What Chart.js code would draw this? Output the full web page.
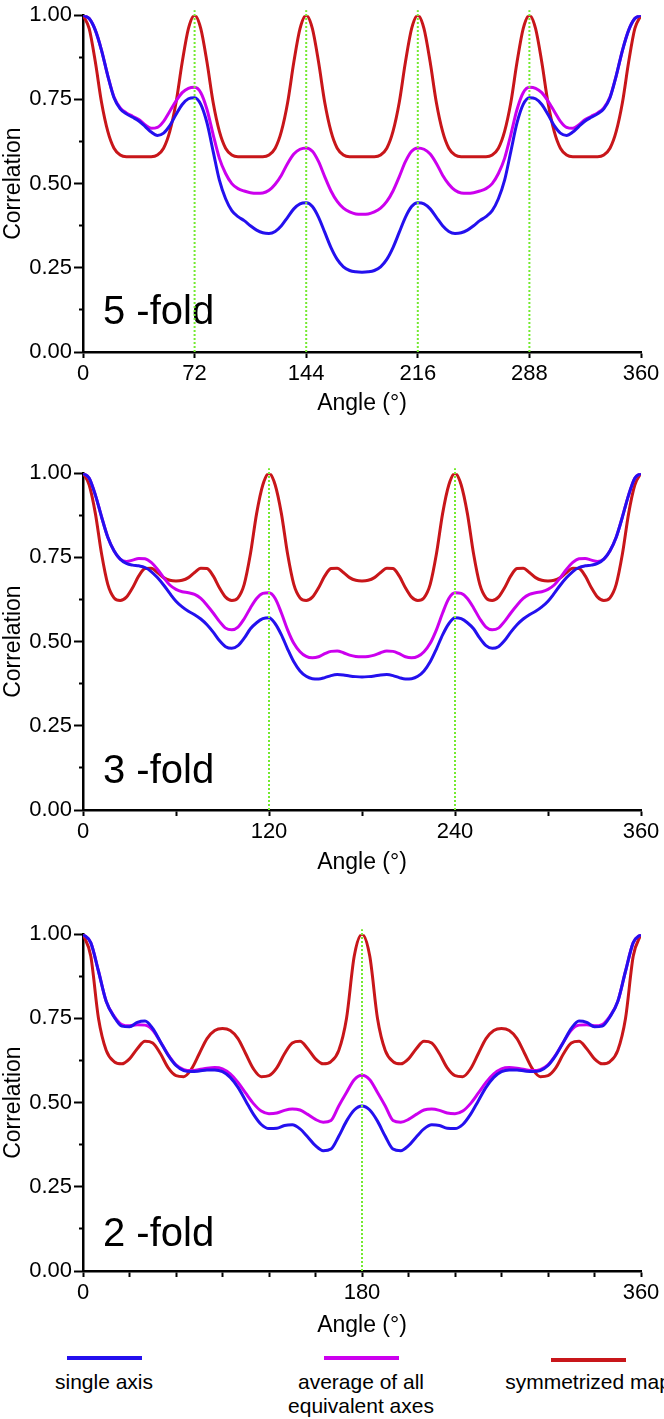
<!DOCTYPE html>
<html>
<head>
<meta charset="utf-8">
<script src="https://cdn.jsdelivr.net/npm/chart.js@4.4.1/dist/chart.umd.min.js"></script>
<style>
    body { margin: 0; background: #fff; width: 664px; height: 1419px; position: relative; overflow: hidden;
           font-family: "Liberation Sans", Arial, sans-serif; color: #000; }
    canvas { position: absolute; left: 0; }
    .key { position: absolute; width: 75px; height: 4px; }
    .keyText { position: absolute; font-size: 21px; line-height: 24px; text-align: center; white-space: nowrap;
               transform: translateX(-50%); }
</style>
</head>
<body>
<canvas id="fiveFold" width="664" height="422" style="top:0px"></canvas>
<canvas id="threeFold" width="664" height="422" style="top:458px"></canvas>
<canvas id="twoFold" width="664" height="422" style="top:919px"></canvas>
<div id="legend"></div>
<script>
// angles (degrees)
const angles4 = [0,4,8,12,16,20,24,28,32,36,40,44,48,52,56,60,64,68,72,76,80,84,88,92,96,100,
    104,108,112,116,120,124,128,132,136,140,144,148,152,156,160,164,168,172,176,180,184,188,192,196,
    200,204,208,212,216,220,224,228,232,236,240,244,248,252,256,260,264,268,272,276,280,284,288,292,
    296,300,304,308,312,316,320,324,328,332,336,340,344,348,352,356,360];
const angles5 = [0,5,10,15,20,25,30,35,40,45,50,55,60,65,70,75,80,85,90,95,100,105,110,115,120,
    125,130,135,140,145,150,155,160,165,170,175,180,185,190,195,200,205,210,215,220,225,230,235,240,
    245,250,255,260,265,270,275,280,285,290,295,300,305,310,315,320,325,330,335,340,345,350,355,360];

// 5-fold
const singleFive = [1.000,0.990,0.955,0.895,0.820,0.755,0.722,0.707,0.697,0.686,
    0.670,0.653,0.643,0.650,0.672,0.705,0.735,0.752,0.755,0.735,
    0.680,0.595,0.510,0.455,0.420,0.402,0.390,0.375,0.362,0.354,
    0.352,0.358,0.375,0.400,0.425,0.440,0.443,0.432,0.400,0.355,
    0.310,0.275,0.253,0.242,0.238,0.237,
    0.238,0.242,0.253,0.275,0.310,0.355,0.400,0.432,0.443,0.440,
    0.425,0.400,0.375,0.358,0.352,0.354,0.362,0.375,0.390,0.402,
    0.420,0.455,0.510,0.595,0.680,0.735,0.755,0.752,0.735,0.705,
    0.672,0.650,0.643,0.653,0.670,0.686,0.697,0.707,0.722,0.755,
    0.820,0.895,0.955,0.990,1.000];
const averageFive = [1.000,0.990,0.955,0.895,0.820,0.757,0.725,0.710,0.700,0.690,
    0.675,0.664,0.667,0.685,0.715,0.745,0.770,0.783,0.786,0.770,
    0.720,0.645,0.575,0.530,0.500,0.485,0.478,0.473,0.471,0.472,
    0.480,0.498,0.525,0.560,0.588,0.602,0.606,0.596,0.565,0.520,
    0.478,0.447,0.427,0.416,0.410,0.409,
    0.410,0.416,0.427,0.447,0.478,0.520,0.565,0.596,0.606,0.602,
    0.588,0.560,0.525,0.498,0.480,0.472,0.471,0.473,0.478,0.485,
    0.500,0.530,0.575,0.645,0.720,0.770,0.786,0.783,0.770,0.745,
    0.715,0.685,0.667,0.664,0.675,0.690,0.700,0.710,0.725,0.757,
    0.820,0.895,0.955,0.990,1.000];
const symmetrizedFive = [
    1.000,0.960,0.860,0.740,0.655,0.605,0.585,0.580,0.580,0.580,0.580,0.580,0.585,0.605,0.655,0.740,0.860,0.960,
    1.000,0.960,0.860,0.740,0.655,0.605,0.585,0.580,0.580,0.580,0.580,0.580,0.585,0.605,0.655,0.740,0.860,0.960,
    1.000,0.960,0.860,0.740,0.655,0.605,0.585,0.580,0.580,0.580,0.580,0.580,0.585,0.605,0.655,0.740,0.860,0.960,
    1.000,0.960,0.860,0.740,0.655,0.605,0.585,0.580,0.580,0.580,0.580,0.580,0.585,0.605,0.655,0.740,0.860,0.960,
    1.000,0.960,0.860,0.740,0.655,0.605,0.585,0.580,0.580,0.580,0.580,0.580,0.585,0.605,0.655,0.740,0.860,0.960,
    1.000];

// 3-fold
const singleThree = [1.000,0.985,0.935,0.870,0.810,0.770,0.745,0.732,0.727,0.725,
    0.720,0.708,0.690,0.668,0.643,0.620,0.603,0.590,0.580,0.567,
    0.550,0.528,0.503,0.485,0.480,0.488,0.510,0.538,0.556,0.568,
    0.571,0.553,0.520,0.478,0.440,0.413,0.397,0.390,0.389,0.393,
    0.399,0.402,0.401,0.398,0.396,0.395,
    0.396,0.398,0.401,0.402,0.399,0.393,0.389,0.390,0.397,0.413,
    0.440,0.478,0.520,0.553,0.571,0.568,0.556,0.538,0.510,0.488,
    0.480,0.485,0.503,0.528,0.550,0.567,0.580,0.590,0.603,0.620,
    0.643,0.668,0.690,0.708,0.720,0.725,0.727,0.732,0.745,0.770,
    0.810,0.870,0.935,0.985,1.000];
const averageThree = [1.000,0.985,0.935,0.870,0.810,0.770,0.745,0.738,0.742,0.747,
    0.746,0.735,0.715,0.690,0.668,0.655,0.648,0.645,0.640,0.628,
    0.608,0.585,0.560,0.540,0.535,0.543,0.568,0.600,0.628,0.643,
    0.645,0.628,0.585,0.535,0.495,0.470,0.456,0.452,0.455,0.464,
    0.471,0.472,0.467,0.460,0.456,0.455,
    0.456,0.460,0.467,0.472,0.471,0.464,0.455,0.452,0.456,0.470,
    0.495,0.535,0.585,0.628,0.645,0.643,0.628,0.600,0.568,0.543,
    0.535,0.540,0.560,0.585,0.608,0.628,0.640,0.645,0.648,0.655,
    0.668,0.690,0.715,0.735,0.746,0.747,0.742,0.738,0.745,0.770,
    0.810,0.870,0.935,0.985,1.000];
const symmetrizedThree = [
    1.000,0.965,0.880,0.760,0.670,0.630,0.622,0.632,0.660,0.695,0.717,0.718,0.705,0.690,0.682,
    0.680,0.682,0.690,0.705,0.718,0.717,0.695,0.660,0.632,0.622,0.630,0.670,0.760,0.880,0.965,
    1.000,0.965,0.880,0.760,0.670,0.630,0.622,0.632,0.660,0.695,0.717,0.718,0.705,0.690,0.682,
    0.680,0.682,0.690,0.705,0.718,0.717,0.695,0.660,0.632,0.622,0.630,0.670,0.760,0.880,0.965,
    1.000,0.965,0.880,0.760,0.670,0.630,0.622,0.632,0.660,0.695,0.717,0.718,0.705,0.690,0.682,
    0.680,0.682,0.690,0.705,0.718,0.717,0.695,0.660,0.632,0.622,0.630,0.670,0.760,0.880,0.965,
    1.000];

// 2-fold
const singleTwo = [1.000,0.975,0.890,0.800,0.755,0.727,0.725,0.738,0.742,0.720,
    0.680,0.640,0.610,0.595,0.592,0.594,0.597,0.597,0.592,0.575,
    0.545,0.505,0.465,0.435,0.423,0.424,0.432,0.434,0.422,0.398,
    0.372,0.357,0.362,0.400,0.445,0.478,0.490,
    0.478,0.445,0.400,0.362,0.357,0.372,0.398,0.422,0.434,0.432,
    0.424,0.423,0.435,0.465,0.505,0.545,0.575,0.592,0.597,0.597,
    0.594,0.592,0.595,0.610,0.640,0.680,0.720,0.742,0.738,0.725,
    0.727,0.755,0.800,0.890,0.975,1.000];
const averageTwo = [1.000,0.975,0.890,0.800,0.757,0.732,0.728,0.731,0.730,0.715,
    0.680,0.642,0.612,0.598,0.595,0.598,0.602,0.604,0.600,0.585,
    0.560,0.528,0.497,0.475,0.467,0.469,0.477,0.481,0.478,0.465,
    0.450,0.442,0.447,0.490,0.530,0.568,0.581,
    0.568,0.530,0.490,0.447,0.442,0.450,0.465,0.478,0.481,0.477,
    0.469,0.467,0.475,0.497,0.528,0.560,0.585,0.600,0.604,0.602,
    0.598,0.595,0.598,0.612,0.642,0.680,0.715,0.730,0.731,0.728,
    0.732,0.757,0.800,0.890,0.975,1.000];
const symmetrizedTwo = [1.000,0.935,0.750,0.655,0.622,0.615,0.630,0.660,0.682,0.677,
    0.645,0.603,0.580,0.577,0.600,0.645,0.690,0.714,0.720,0.714,
    0.690,0.645,0.600,0.577,0.580,0.603,0.645,0.677,0.682,0.660,
    0.630,0.615,0.622,0.655,0.750,0.935,1.000,
    0.935,0.750,0.655,0.622,0.615,0.630,0.660,0.682,0.677,
    0.645,0.603,0.580,0.577,0.600,0.645,0.690,0.714,0.720,0.714,
    0.690,0.645,0.600,0.577,0.580,0.603,0.645,0.677,0.682,0.660,
    0.630,0.615,0.622,0.655,0.750,0.935,1.000];

const seriesNames = ['single axis', 'average of all\nequivalent axes', 'symmetrized map'];
const seriesColors = ['#2410ee', '#cc00ee', '#c8161a'];
const foldLineColor = '#74ea30';
const fontFamily = '"Liberation Sans", Arial, sans-serif';

Chart.defaults.font.family = fontFamily;
Chart.defaults.color = '#000';

const foldLabel = {
    id: 'foldLabel',
    beforeDatasetsDraw(chart, args, opts) {
        const {ctx, chartArea} = chart;
        ctx.save();
        ctx.font = `40px ${fontFamily}`;
        ctx.fillStyle = '#000';
        ctx.textBaseline = 'alphabetic';
        ctx.fillText(opts.text, chartArea.left + 20, chartArea.bottom - opts.raise);
        ctx.restore();
    }
};

const isQuarter = v => Math.abs(v * 4 - Math.round(v * 4)) < 1e-6;

let createPanel = (id, foldText, angles, series, foldAngles, tickStep, labelStep, titlePad, raise) => {
    let ctx = document.getElementById(id).getContext('2d');
    let datasets = foldAngles.map(a => ({
        data: [{x: a, y: 0}, {x: a, y: 1.015}],
        borderColor: foldLineColor,
        borderWidth: 2,
        borderDash: [2, 2],
        pointRadius: 0,
        clip: false,
        order: 0
    }));
    series.forEach((values, i) => datasets.push({
        label: seriesNames[i],
        data: values.map((v, j) => ({x: angles[j], y: v})),
        borderColor: seriesColors[i],
        borderWidth: 3,
        pointRadius: 0,
        cubicInterpolationMode: 'monotone',
        order: 1
    }));
    return new Chart(ctx, {
        type: 'line',
        data: {datasets: datasets},
        plugins: [foldLabel],
        options: {
            responsive: false,
            animation: false,
            devicePixelRatio: 1,
            layout: {padding: {top: 12, right: 23, left: 0, bottom: 0}},
            plugins: {
                legend: {display: false},
                tooltip: {enabled: false},
                foldLabel: {text: foldText, raise: raise}
            },
            scales: {
                x: {
                    type: 'linear', min: 0, max: 360,
                    border: {color: '#000', width: 2.5},
                    grid: {drawOnChartArea: false, tickLength: 6, tickWidth: 2, tickColor: '#000'},
                    ticks: {stepSize: tickStep, autoSkip: false, maxRotation: 0, padding: 3,
                            font: {size: 22}, callback: v => (v % labelStep === 0 ? String(v) : '')},
                    title: {display: true, text: 'Angle (°)', font: {size: 23}, padding: {top: 0, bottom: titlePad}},
                    afterFit: s => { s.height = 70; }
                },
                y: {
                    min: 0, max: 1,
                    border: {color: '#000', width: 2.5},
                    grid: {
                        drawOnChartArea: false, tickLength: 9, tickWidth: 2, tickColor: '#000',
                        tickBorderDash: c => (c.tick && !isQuarter(c.tick.value) ? [4, 50] : []),
                        tickBorderDashOffset: c => (c.tick && !isQuarter(c.tick.value) ? 49 : 0)
                    },
                    ticks: {stepSize: 0.125, autoSkip: false, padding: 2, font: {size: 22},
                            callback: v => (isQuarter(v) ? v.toFixed(2) : '')},
                    title: {display: true, text: 'Correlation', font: {size: 23}, padding: 0},
                    afterFit: s => { s.width = 83; }
                }
            }
        }
    });
}

createPanel('fiveFold', '5 -fold', angles4, [singleFive, averageFive, symmetrizedFive],
    [72, 144, 216, 288], 72, 72, 5, 28);
createPanel('threeFold', '3 -fold', angles4, [singleThree, averageThree, symmetrizedThree],
    [120, 240], 60, 120, 4, 27);
createPanel('twoFold', '2 -fold', angles5, [singleTwo, averageTwo, symmetrizedTwo],
    [180], 30, 180, 2, 25);

// legend below the panels
let legend = document.getElementById('legend');
let keyCenters = [104, 361, 588];
seriesNames.forEach((name, i) => {
    let key = document.createElement('div');
    key.className = 'key';
    key.style.background = seriesColors[i];
    key.style.left = (keyCenters[i] - 37) + 'px';
    key.style.top = (i === 2 ? 1358 : 1356) + 'px';
    legend.appendChild(key);
    let text = document.createElement('div');
    text.className = 'keyText';
    text.style.left = keyCenters[i] + 'px';
    text.style.top = '1370px';
    text.innerHTML = name.replace('\n', '<br>');
    legend.appendChild(text);
});
</script>
</body>
</html>
